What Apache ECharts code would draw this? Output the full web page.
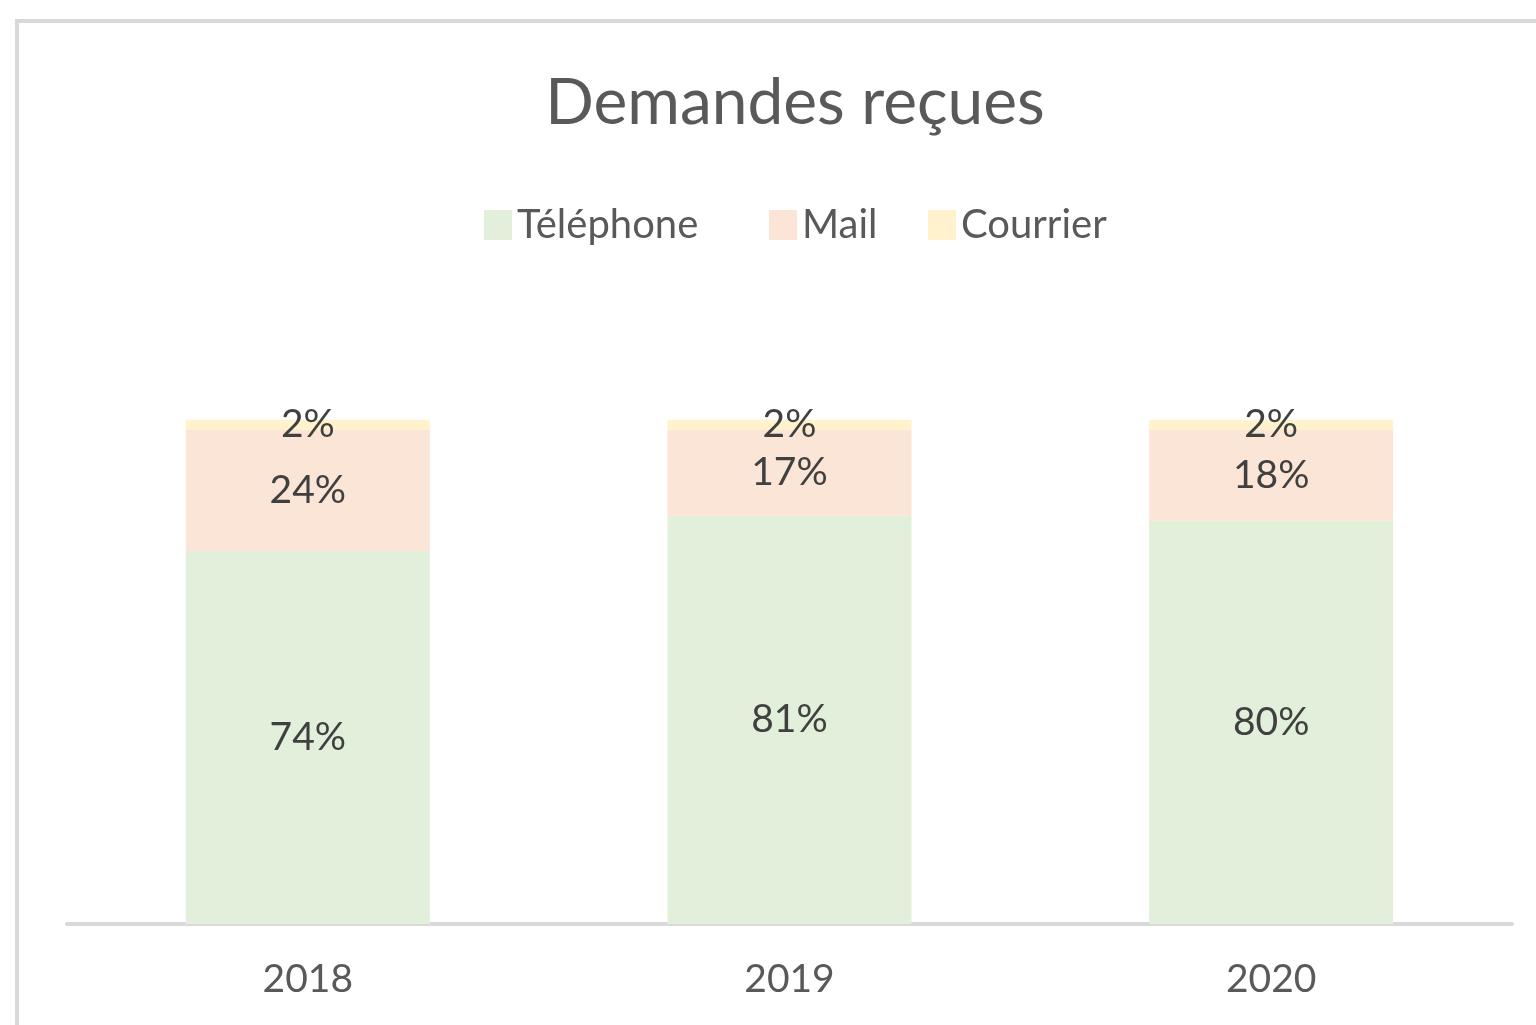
<!DOCTYPE html>
<html><head><meta charset="utf-8">
<script src="https://cdn.jsdelivr.net/npm/echarts@6/dist/echarts.min.js"></script>
<style>html,body{margin:0;padding:0;background:#fff}#c{width:1536px;height:1025px}</style>
</head><body><div id="c"></div>
<script>
const years = ['2018', '2019', '2020'];
const telephone = [74, 81, 80];
const mail = [24, 17, 18];
const courrier = [2, 2, 2];
const seriesNames = ['Téléphone', 'Mail', 'Courrier'];
const colors = ['#e2efda', '#fbe5d6', '#fff2cc'];

const FONT = 'Lato';
const chart = echarts.init(document.getElementById('c'));
const mk = (name, data, color) => ({
  name, type: 'bar', stack: 'total', data, barWidth: 244,
  itemStyle: { color },
  label: { show: true, position: 'inside', formatter: p => p.value + '%',
    color: '#404040', fontFamily: FONT, fontSize: 39 }
});
const legendAt = (name, left) => ({
  data: [name], left, top: 200, itemWidth: 28, itemHeight: 30, itemGap: 0,
  icon: 'rect', textStyle: { color: '#595959', fontFamily: FONT, fontSize: 40, padding: [0,0,16,0] }
});
chart.setOption({
  backgroundColor: '#fff',
  animation: false,
  title: { text: 'Demandes reçues', left: 790, top: 66, textAlign: 'center',
    textStyle: { color: '#595959', fontFamily: FONT, fontSize: 64, fontWeight: 'normal' } },
  legend: [legendAt(seriesNames[0], 479), legendAt(seriesNames[1], 764), legendAt(seriesNames[2], 923)],
  graphic: [{ type: 'rect', shape: { x: 17, y: 21, width: 2000, height: 2000 },
    style: { fill: 'none', stroke: '#d9d9d9', lineWidth: 4 }, silent: true, z: -1 }],
  grid: { left: 67, right: 24, top: 319, bottom: 101 },
  xAxis: { type: 'category', data: years,
    axisLine: { lineStyle: { color: '#d9d9d9', width: 4 } },
    axisTick: { show: false },
    axisLabel: { color: '#595959', fontFamily: FONT, fontSize: 39, margin: 36 } },
  yAxis: { type: 'value', min: 0, max: 120, show: false, splitLine: { show: false } },
  series: [mk(seriesNames[0], telephone, colors[0]), mk(seriesNames[1], mail, colors[1]), mk(seriesNames[2], courrier, colors[2])]
});
</script></body></html>
